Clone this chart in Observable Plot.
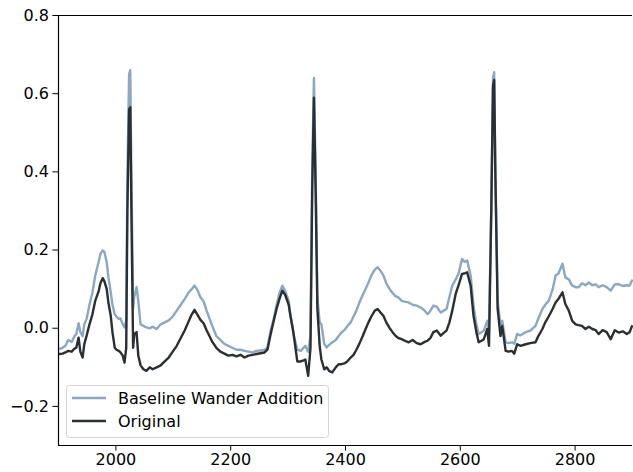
<!DOCTYPE html>
<html>
<head>
<meta charset="utf-8">
<script src="https://cdn.jsdelivr.net/npm/d3@7"></script>
<script src="https://cdn.jsdelivr.net/npm/@observablehq/plot@0.6"></script>
<style>
  html, body { margin: 0; padding: 0; background: #fff; }
  #chart svg { display: block; }
  #chart svg text { font-family: 'DejaVu Sans', sans-serif !important; font-size: 16px !important; fill: #000; }
</style>
</head>
<body>
<div id="chart"></div>
<script>
// Sample positions (x) shared by both series
const xs = [1902,1907,1912,1917,1923,1928,1931,1935,1938,1942,1945,1949,1954,1959,1964,1970,1973,1977,1980,1984,1987,1991,1994,1998,2001,2005,2008,2012,2015,2018,2020,2023,2025,2027,2030,2032,2036,2039,2043,2048,2053,2059,2064,2071,2078,2085,2092,2099,2106,2113,2120,2126,2132,2137,2142,2147,2153,2158,2163,2168,2175,2182,2189,2196,2203,2210,2217,2224,2231,2238,2245,2252,2259,2264,2269,2275,2280,2285,2290,2295,2301,2304,2308,2311,2316,2322,2327,2330,2335,2339,2342,2345,2348,2351,2355,2358,2363,2367,2372,2377,2383,2388,2393,2398,2403,2409,2414,2419,2424,2430,2435,2440,2445,2451,2456,2461,2466,2471,2477,2482,2487,2492,2498,2503,2510,2517,2524,2531,2538,2543,2548,2553,2559,2566,2571,2576,2581,2586,2592,2597,2603,2607,2612,2618,2623,2628,2632,2637,2641,2647,2650,2654,2657,2659,2661,2665,2670,2673,2679,2684,2690,2694,2699,2705,2714,2722,2731,2736,2743,2748,2754,2761,2766,2771,2778,2783,2789,2795,2801,2806,2812,2818,2824,2830,2836,2841,2848,2855,2862,2869,2876,2883,2890,2895,2899];

const original = [-0.066,-0.065,-0.062,-0.058,-0.060,-0.052,-0.050,-0.024,-0.060,-0.075,-0.040,-0.019,0.010,0.035,0.070,0.095,0.115,0.128,0.120,0.100,0.065,0.032,-0.010,-0.050,-0.055,-0.058,-0.062,-0.070,-0.088,-0.050,0.300,0.560,0.565,0.300,-0.050,-0.015,-0.010,-0.070,-0.095,-0.105,-0.109,-0.100,-0.105,-0.100,-0.095,-0.085,-0.075,-0.060,-0.045,-0.025,-0.005,0.015,0.035,0.047,0.035,0.022,0.012,-0.005,-0.020,-0.035,-0.050,-0.060,-0.065,-0.070,-0.068,-0.072,-0.068,-0.075,-0.070,-0.068,-0.066,-0.064,-0.062,-0.055,-0.019,0.019,0.050,0.075,0.096,0.085,0.060,0.032,0.000,-0.030,-0.085,-0.085,-0.082,-0.080,-0.122,-0.050,0.350,0.590,0.350,0.050,-0.045,-0.080,-0.105,-0.100,-0.110,-0.113,-0.100,-0.092,-0.092,-0.090,-0.085,-0.075,-0.068,-0.055,-0.040,-0.020,-0.002,0.015,0.030,0.045,0.049,0.040,0.032,0.015,0.000,-0.010,-0.019,-0.025,-0.028,-0.032,-0.036,-0.030,-0.038,-0.041,-0.035,-0.032,-0.025,-0.010,-0.006,-0.019,-0.012,-0.006,0.015,0.045,0.088,0.110,0.139,0.140,0.143,0.109,0.032,-0.010,-0.036,-0.032,-0.028,-0.002,-0.045,0.300,0.620,0.635,0.400,0.050,-0.020,0.006,-0.058,-0.060,-0.058,-0.065,-0.041,-0.045,-0.041,-0.038,-0.036,-0.020,-0.002,0.015,0.030,0.050,0.066,0.075,0.092,0.062,0.045,0.019,0.010,0.008,0.006,-0.002,0.004,-0.002,-0.005,-0.015,-0.005,-0.010,-0.028,-0.005,-0.011,-0.008,-0.015,-0.010,0.005];

const baselineWander = [-0.053,-0.050,-0.045,-0.030,-0.035,-0.020,-0.015,0.013,-0.010,-0.020,0.010,0.024,0.060,0.090,0.135,0.170,0.190,0.199,0.195,0.169,0.130,0.092,0.060,0.036,0.030,0.024,0.025,0.010,0.002,0.020,0.380,0.650,0.660,0.400,0.050,0.080,0.105,0.070,0.010,0.006,0.002,0.000,0.004,-0.002,0.010,0.015,0.020,0.030,0.045,0.060,0.075,0.090,0.100,0.109,0.098,0.080,0.068,0.045,0.025,0.005,-0.020,-0.030,-0.040,-0.045,-0.050,-0.055,-0.055,-0.058,-0.060,-0.062,-0.058,-0.057,-0.055,-0.050,-0.010,0.024,0.060,0.090,0.109,0.095,0.070,0.035,0.000,-0.025,-0.055,-0.058,-0.050,-0.045,-0.060,-0.020,0.400,0.640,0.400,0.080,0.015,0.010,-0.040,-0.049,-0.042,-0.036,-0.030,-0.020,-0.011,-0.005,0.005,0.015,0.030,0.045,0.065,0.085,0.100,0.117,0.135,0.150,0.156,0.147,0.135,0.115,0.100,0.090,0.082,0.079,0.070,0.068,0.066,0.060,0.058,0.053,0.045,0.036,0.045,0.058,0.055,0.040,0.045,0.049,0.080,0.109,0.125,0.140,0.177,0.170,0.173,0.135,0.058,0.010,-0.015,-0.010,-0.006,0.019,-0.010,0.320,0.640,0.655,0.420,0.070,0.010,0.019,-0.036,-0.038,-0.036,-0.040,-0.015,-0.018,-0.010,-0.006,0.006,0.025,0.049,0.060,0.070,0.100,0.135,0.140,0.165,0.130,0.125,0.109,0.105,0.105,0.115,0.110,0.117,0.110,0.112,0.105,0.110,0.105,0.096,0.112,0.113,0.108,0.110,0.109,0.122];

const seriesNames = ["Baseline Wander Addition", "Original"];
const seriesColors = ["#8aa8c3", "#2a2f33"];
const xTicks = [2000, 2200, 2400, 2600, 2800];
const yTicks = [-0.2, 0.0, 0.2, 0.4, 0.6, 0.8];

const rows = [];
xs.forEach((x, i) => {
  rows.push({x, y: baselineWander[i], series: seriesNames[0]});
});
xs.forEach((x, i) => {
  rows.push({x, y: original[i], series: seriesNames[1]});
});

const font = "'DejaVu Sans', sans-serif";

const plot = Plot.plot({
  width: 633,
  height: 472,
  marginLeft: 58,
  marginRight: 1,
  marginTop: 15,
  marginBottom: 27,
  style: {fontFamily: font, fontSize: "16px", color: "#000", background: "#fff"},
  x: {domain: [1900, 2900]},
  y: {domain: [-0.3, 0.8]},
  color: {domain: seriesNames, range: seriesColors},
  marks: [
    Plot.line(rows.filter(d => d.series === seriesNames[0]), {x: "x", y: "y", stroke: "series", strokeWidth: 2.4}),
    Plot.line(rows.filter(d => d.series === seriesNames[1]), {x: "x", y: "y", stroke: "series", strokeWidth: 2.4}),
    Plot.ruleX([1900], {stroke: "#000", strokeWidth: 1.2}),
    Plot.ruleY([0.8], {stroke: "#000", strokeWidth: 1.2}),
    Plot.ruleY([-0.3], {stroke: "#000", strokeWidth: 1.2}),
    Plot.axisX(xTicks, {tickSize: 5.6, tickPadding: 3, tickFormat: d3.format("d"), label: null, stroke: "#000"}),
    Plot.axisY(yTicks, {tickSize: 5.6, tickPadding: 4, tickFormat: d3.format(".1f"), label: null, stroke: "#000"})
  ]
});

document.getElementById("chart").appendChild(plot);

// Legend (matplotlib style, lower left inside the axes)
const svg = d3.select(plot);
const lg = svg.append("g").attr("text-anchor", "start");
lg.append("rect")
  .attr("x", 66.5).attr("y", 385.5).attr("width", 262).attr("height", 52)
  .attr("rx", 3).attr("fill", "#fff").attr("fill-opacity", 0.8)
  .attr("stroke", "#d4d4d4").attr("stroke-width", 1);
seriesNames.forEach((name, i) => {
  const cy = 398 + i * 23;
  lg.append("line").attr("x1", 72).attr("x2", 106).attr("y1", cy).attr("y2", cy)
    .attr("stroke", seriesColors[i]).attr("stroke-width", 2.4);
  lg.append("text").attr("x", 118).attr("y", cy).attr("dy", "0.35em")
    .attr("text-anchor", "start").text(name);
});
</script>
</body>
</html>
